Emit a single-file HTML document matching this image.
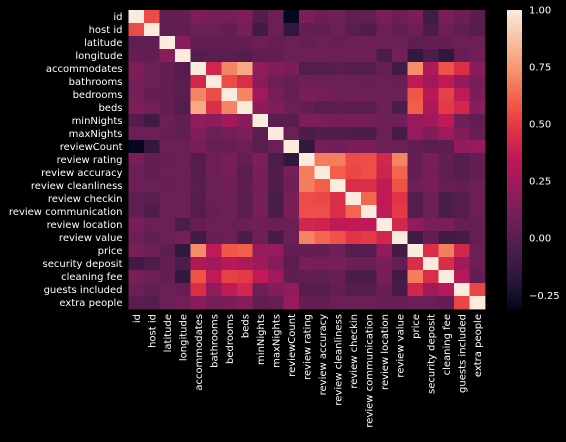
<!DOCTYPE html>
<html><head><meta charset="utf-8"><style>
body{margin:0;background:#000;width:566px;height:437px;overflow:hidden}
svg text{font-family:"DejaVu Sans","Liberation Sans",sans-serif;font-size:10px;fill:#fff}
</style></head><body>
<svg id="chart" width="566" height="437" xmlns="http://www.w3.org/2000/svg">
<g id="cells"></g>
<g id="ylabels"></g>
<g id="xlabels"></g>
<defs><linearGradient id="cbg" x1="0" y1="1" x2="0" y2="0"></linearGradient></defs>
<rect x="507" y="10" width="15" height="299" fill="url(#cbg)"/>
<g id="cbticks"></g>
</svg>
<script>
const labels=["id","host id","latitude","longitude","accommodates","bathrooms","bedrooms","beds","minNights","maxNights","reviewCount","review rating","review accuracy","review cleanliness","review checkin","review communication","review location","review value","price","security deposit","cleaning fee","guests included","extra people"];
const matrix=[
[1,.55,.03,.04,.13,.1,.1,.13,-.02,.07,-.3,.12,.07,.08,.03,.03,.12,.07,.12,-.1,.12,.07,0],
[.55,1,.03,.03,.07,.07,.04,.1,-.1,.07,-.15,.04,.03,.06,0,-.03,.07,.03,.07,-.05,.07,.03,-.02],
[.03,.03,1,.18,.04,.04,.04,.04,.06,.05,.06,.05,.06,.05,.07,.07,.06,.06,.02,.04,.04,.07,.07],
[.04,.03,.18,1,-.02,0,0,-.02,.03,.03,.07,.06,.07,.06,.06,.08,-.05,.1,-.15,-.05,-.15,.05,.09],
[.13,.07,.04,-.02,1,.42,.7,.8,.2,.15,.12,-.02,-.02,0,-.02,-.02,.05,-.1,.72,.3,.57,.45,.18],
[.1,.07,.04,0,.42,1,.55,.45,.18,.07,.05,.08,.07,.06,.06,.05,.07,.05,.35,.25,.35,.2,.1],
[.1,.04,.04,0,.7,.55,1,.7,.25,.1,.05,.12,.1,.08,.08,.08,.07,.06,.58,.33,.52,.35,.12],
[.13,.1,.04,-.02,.8,.45,.7,1,.18,.13,.06,.04,0,.02,0,0,.06,-.05,.6,.28,.5,.42,.17],
[-.02,-.1,.06,.03,.2,.18,.25,.18,1,0,0,.13,.12,.1,.1,.1,.08,.08,.22,.25,.35,.08,.03],
[.07,.07,.05,.03,.15,.07,.1,.13,0,1,.06,-.05,-.03,-.03,-.05,-.05,.06,-.08,.22,.15,.25,.15,.05],
[-.3,-.15,.06,.07,.12,.05,.05,.06,0,.06,1,-.15,.1,.08,.12,.12,.06,.06,.03,0,.02,.2,.22],
[.12,.04,.05,.06,-.02,.08,.12,.04,.13,-.05,-.15,1,.68,.68,.55,.56,.42,.7,.04,.12,.03,-.02,.04],
[.07,.03,.06,.07,-.02,.07,.1,0,.12,-.03,.1,.68,1,.6,.54,.56,.4,.62,.04,.1,.03,-.02,.04],
[.08,.06,.05,.06,0,.06,.08,.02,.1,-.03,.08,.68,.6,1,.45,.45,.35,.57,.08,.12,.05,.04,.07],
[.03,0,.07,.06,-.02,.06,.08,0,.1,-.05,.12,.55,.54,.45,1,.62,.35,.48,-.02,.07,-.05,-.02,.07],
[.03,-.03,.07,.08,-.02,.05,.08,0,.1,-.05,.12,.56,.56,.45,.62,1,.35,.5,-.02,.07,-.05,-.02,.07],
[.12,.07,.06,-.05,.05,.07,.07,.06,.08,.06,.06,.42,.4,.35,.35,.35,1,.42,.2,.12,.12,.05,.05],
[.07,.03,.06,.1,-.1,.05,.06,-.05,.08,-.08,.06,.7,.62,.57,.48,.5,.42,1,-.1,.04,-.1,-.08,.05],
[.12,.07,.02,-.15,.72,.35,.58,.6,.22,.22,.03,.04,.04,.08,-.02,-.02,.2,-.1,1,.45,.68,.42,.07],
[-.1,-.05,.04,-.05,.3,.25,.33,.28,.25,.15,0,.12,.1,.12,.07,.07,.12,.04,.45,1,.45,.25,.07],
[.12,.07,.04,-.15,.57,.35,.52,.5,.35,.25,.02,.03,.03,.05,-.05,-.05,.12,-.1,.68,.45,1,.32,.04],
[.07,.03,.07,.05,.45,.2,.35,.42,.08,.15,.2,-.02,-.02,.04,-.02,-.02,.05,-.08,.42,.25,.32,1,.53],
[0,-.02,.07,.09,.18,.1,.12,.17,.03,.05,.22,.04,.04,.07,.07,.07,.05,.05,.07,.07,.04,.53,1]];
const cbTicks=[-0.25,0,0.25,0.5,0.75,1];
const vmin=-0.31,vmax=1;
const stops=[[3,5,26],[42,23,60],[76,29,75],[112,31,87],[149,27,92],[190,24,87],[224,50,68],[243,96,74],[245,148,109],[246,194,161],[250,235,221]];
function cmap(v){let t=Math.max(0,Math.min(1,(v-vmin)/(vmax-vmin)))*(stops.length-1);let i=Math.min(stops.length-2,Math.floor(t)),f=t-i;const a=stops[i],b=stops[i+1];return `rgb(${a.map((c,k)=>Math.round(c+(b[k]-c)*f)).join(',')})`;}
const X0=128.5,Y0=10,CW=15.5,CH=13;
const xs=i=>X0+i*CW, ys=i=>Y0+i*CH;
const NS="http://www.w3.org/2000/svg";
const cells=document.getElementById('cells');
matrix.forEach((row,r)=>row.forEach((v,c)=>{
 const el=document.createElementNS(NS,'rect');
 
 
 el.setAttribute('x',xs(c));el.setAttribute('y',ys(r));
 el.setAttribute('width',CW+0.4);el.setAttribute('height',CH+0.4);
 el.setAttribute('fill',cmap(v));cells.appendChild(el);
}));
const yl=document.getElementById('ylabels'),xl=document.getElementById('xlabels');
labels.forEach((l,i)=>{
 const t=document.createElementNS(NS,'text');
 
 
 t.setAttribute('x',X0-6);t.setAttribute('y',ys(i)+CH/2+3.5);t.setAttribute('text-anchor','end');
 t.textContent=l;yl.appendChild(t);
 const u=document.createElementNS(NS,'text');
 
 
 const cx=xs(i)+CW/2+3.5,cy=Y0+labels.length*CH+5;
 u.setAttribute('x',cx);u.setAttribute('y',cy);u.setAttribute('text-anchor','end');
 u.setAttribute('transform',`rotate(-90 ${cx} ${cy})`);
 u.textContent=l;xl.appendChild(u);
});
const g=document.getElementById('cbg');
for(let k=0;k<=20;k++){const v=vmin+(vmax-vmin)*k/20;const s=document.createElementNS(NS,'stop');s.setAttribute('offset',k/20);s.setAttribute('stop-color',cmap(v));g.appendChild(s);}
const cbY=v=>309-(v-vmin)/(vmax-vmin)*299;
const cbt=document.getElementById('cbticks');
cbTicks.forEach(v=>{
 const t=document.createElementNS(NS,'text');
 
 
 t.setAttribute('x',529);t.setAttribute('y',cbY(v)+3.5);
 t.textContent=v<0?'\u2212'+Math.abs(v).toFixed(2):v.toFixed(2);cbt.appendChild(t);
});
</script>
</body></html>
